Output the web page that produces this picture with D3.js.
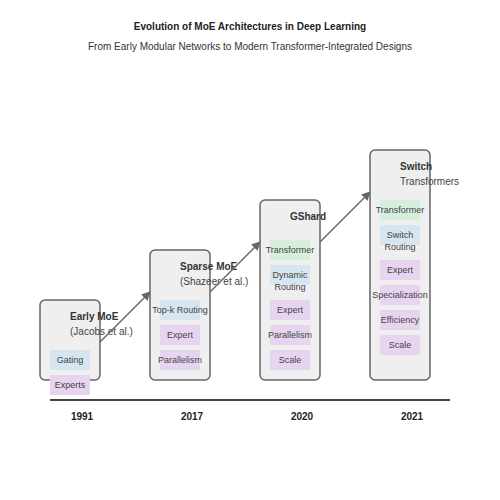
<!DOCTYPE html>
<html>
<head>
<meta charset="utf-8">
<script src="https://cdn.jsdelivr.net/npm/d3@7"></script>
<style>
  body { margin: 0; background: #fff; }
  text { font-family: "Liberation Sans", Arial, sans-serif; }
</style>
</head>
<body>
<div id="chart"></div>
<script>
// Data
var years = ["1991", "2017", "2020", "2021"];
var names = ["Early MoE", "Sparse MoE", "GShard", "Switch"];
var subtitles = ["(Jacobs et al.)", "(Shazeer et al.)", "", "Transformers"];
var levels = [0, 1, 2, 3];
var components = [
  [["Gating", "route"], ["Experts", "expert"]],
  [["Top-k Routing", "route"], ["Expert", "expert"], ["Parallelism", "expert"]],
  [["Transformer", "tf"], ["Dynamic\nRouting", "route"], ["Expert", "expert"], ["Parallelism", "expert"], ["Scale", "expert"]],
  [["Transformer", "tf"], ["Switch\nRouting", "route"], ["Expert", "expert"], ["Specialization", "expert"], ["Efficiency", "expert"], ["Scale", "expert"]]
];
var compColors = { route: "#d5e5f1", expert: "#e7d5ef", tf: "#d6efdc" };

var width = 500, height = 500;
var svg = d3.select("#chart").append("svg")
  .attr("width", width).attr("height", height);

var x = d3.scaleLinear().domain([0, 3]).range([70, 400]);
var y = d3.scaleLinear().domain([0, 3]).range([300, 150]); // box top
var boxW = 60, boxBottom = 380;

// Titles
svg.append("text").attr("x", 250).attr("y", 30).attr("text-anchor", "middle")
  .attr("font-size", 10).attr("font-weight", "bold").attr("fill", "#222")
  .text("Evolution of MoE Architectures in Deep Learning");
svg.append("text").attr("x", 250).attr("y", 50).attr("text-anchor", "middle")
  .attr("font-size", 10).attr("fill", "#333")
  .text("From Early Modular Networks to Modern Transformer-Integrated Designs");

// Timeline
svg.append("line").attr("x1", 50).attr("x2", 450).attr("y1", 400).attr("y2", 400)
  .attr("stroke", "#444").attr("stroke-width", 2);
years.forEach(function(yr, i) {
  svg.append("text").attr("x", x(i) + 12).attr("y", 420).attr("text-anchor", "middle")
    .attr("font-size", 10).attr("font-weight", "bold").attr("fill", "#222").text(yr);
});

// Arrow marker
svg.append("defs").append("marker")
  .attr("id", "arr").attr("viewBox", "0 0 10 10").attr("refX", 9).attr("refY", 5)
  .attr("markerWidth", 6).attr("markerHeight", 6).attr("orient", "auto")
  .append("path").attr("d", "M0,0L10,5L0,10z").attr("fill", "#666");

// Boxes
levels.forEach(function(l, i) {
  var cx = x(i), top = y(l);
  var g = svg.append("g");
  g.append("rect").attr("x", cx - boxW / 2).attr("y", top)
    .attr("width", boxW).attr("height", boxBottom - top).attr("rx", 5)
    .attr("fill", "#efefef").attr("stroke", "#666").attr("stroke-width", 1.5);
  g.append("text").attr("x", cx).attr("y", top + 20).attr("font-size", 10)
    .attr("font-weight", "bold").attr("fill", "#333").text(names[i]);
  if (subtitles[i]) {
    g.append("text").attr("x", cx).attr("y", top + 35).attr("font-size", 10)
      .attr("fill", "#444").text(subtitles[i]);
  }
  var cy = i === 2 ? top + 40 : top + 50;
  components[i].forEach(function(c) {
    var lines = c[0].split("\n");
    g.append("rect").attr("x", cx - 20).attr("y", cy).attr("width", 40).attr("height", 20)
      .attr("fill", compColors[c[1]]);
    lines.forEach(function(t, k) {
      g.append("text").attr("x", cx).attr("y", cy + 13 + k * 12).attr("text-anchor", "middle")
        .attr("font-size", 9).attr("fill", "#444").text(t);
    });
    cy += lines.length > 1 ? 35 : 25;
  });
  if (i < levels.length - 1) {
    svg.append("line")
      .attr("x1", cx + boxW / 2).attr("y1", top + 42)
      .attr("x2", x(i + 1) - boxW / 2).attr("y2", y(levels[i + 1]) + 42)
      .attr("stroke", "#666").attr("stroke-width", 1.5).attr("marker-end", "url(#arr)");
  }
});
</script>
</body>
</html>
